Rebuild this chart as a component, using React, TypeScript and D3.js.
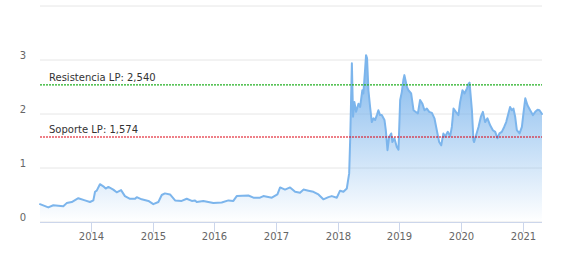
import React from "react";
import * as d3 from "d3";

const dates: string[] = [
  "2013-03-05","2013-04-23","2013-05-23","2013-07-21","2013-08-10","2013-09-09","2013-10-18","2013-11-26","2013-12-26",
  "2014-01-15","2014-01-25","2014-02-04","2014-02-23","2014-03-15","2014-03-29","2014-04-14","2014-05-13","2014-06-02",
  "2014-06-28","2014-07-21","2014-08-20","2014-09-19","2014-09-29","2014-10-28","2014-12-07",
  "2015-01-05","2015-02-04","2015-02-24","2015-03-15","2015-04-14","2015-05-14","2015-06-22","2015-07-22","2015-08-21",
  "2015-09-09","2015-09-19","2015-10-28","2015-12-27",
  "2016-02-14","2016-03-25","2016-04-23","2016-05-13","2016-07-21","2016-08-20","2016-09-28","2016-10-18","2016-12-07",
  "2017-01-09","2017-01-25","2017-02-23","2017-03-25","2017-04-24","2017-05-23","2017-06-12","2017-07-12","2017-08-10",
  "2017-09-09","2017-10-08","2017-11-07","2017-11-27","2017-12-27",
  "2018-01-15","2018-02-04","2018-02-24","2018-03-10","2018-03-17","2018-03-26","2018-04-02","2018-04-10","2018-04-20",
  "2018-05-04","2018-05-14","2018-05-27","2018-06-02","2018-06-12","2018-06-18","2018-06-24","2018-07-02","2018-07-12",
  "2018-07-22","2018-08-01","2018-08-11","2018-08-21","2018-08-30","2018-09-09","2018-09-19","2018-10-05","2018-10-13",
  "2018-10-23","2018-11-02","2018-11-14","2018-11-21","2018-12-03","2018-12-17","2018-12-27",
  "2019-01-06","2019-01-16","2019-01-25","2019-01-31","2019-02-15","2019-02-24","2019-03-12","2019-03-26","2019-04-21",
  "2019-05-04","2019-05-18","2019-05-30","2019-06-13","2019-06-27","2019-07-13","2019-07-28","2019-08-11","2019-08-25",
  "2019-09-06","2019-09-19","2019-09-29","2019-10-15","2019-10-29","2019-11-08","2019-11-18","2019-12-02","2019-12-17",
  "2019-12-27",
  "2020-01-10","2020-01-22","2020-02-05","2020-02-15","2020-02-21","2020-03-06","2020-03-15","2020-03-19","2020-03-31",
  "2020-04-14","2020-04-28","2020-05-10","2020-05-23","2020-06-06","2020-06-22","2020-07-08","2020-07-22","2020-08-04",
  "2020-08-16","2020-08-30","2020-09-13","2020-09-25","2020-10-08","2020-10-18","2020-10-29","2020-11-07","2020-11-17",
  "2020-11-27","2020-12-13","2020-12-27",
  "2021-01-05","2021-01-16","2021-01-29","2021-02-14","2021-03-02","2021-03-16","2021-03-30","2021-04-10","2021-04-25"
];

const values: number[] = [
  0.33,0.27,0.31,0.29,0.35,0.37,0.44,0.40,0.37,
  0.40,0.56,0.58,0.70,0.66,0.62,0.65,0.60,0.55,
  0.59,0.48,0.43,0.43,0.46,0.42,0.39,
  0.33,0.37,0.50,0.53,0.51,0.40,0.39,0.43,0.39,
  0.40,0.37,0.39,0.35,
  0.36,0.40,0.39,0.48,0.49,0.45,0.45,0.48,0.45,
  0.51,0.64,0.60,0.64,0.56,0.54,0.60,0.58,0.56,
  0.51,0.42,0.46,0.48,0.45,
  0.58,0.56,0.62,0.90,1.64,2.94,1.95,2.22,2.04,
  2.19,2.13,2.44,2.38,2.81,3.09,3.03,2.44,2.13,
  1.85,1.92,1.89,1.98,2.07,1.98,1.98,1.89,1.70,
  1.33,1.58,1.64,1.48,1.55,1.39,1.34,
  2.26,2.41,2.63,2.72,2.50,2.44,2.38,2.07,2.01,
  2.26,2.19,2.07,2.10,2.04,2.02,1.92,1.70,1.48,
  1.42,1.64,1.58,1.67,1.59,1.76,2.10,2.04,1.98,
  2.22,
  2.44,2.38,2.47,2.56,2.58,2.07,1.51,1.48,1.61,
  1.76,1.95,2.04,1.85,1.92,1.79,1.70,1.67,1.55,
  1.64,1.67,1.76,1.85,2.01,2.13,2.07,2.10,1.95,
  1.70,1.64,1.76,
  2.01,2.29,2.16,2.07,1.98,2.04,2.08,2.07,2.00
];

const yearTicks: number[] = [2014, 2015, 2016, 2017, 2018, 2019, 2020, 2021];
const yGridTicks: number[] = [0, 1, 2, 3, 4];
const yLabelTicks: number[] = [0, 1, 2, 3];
const plotLineValues: number[] = [2.54, 1.574];
const plotLineLabels: string[] = ["Resistencia LP: 2,540", "Soporte LP: 1,574"];
const plotLineColors: string[] = ["#22b022", "#dd0011"];

export default function App() {
  const W = 561, H = 260;
  const left = 40, right = 542, top = 6, bottom = 222;
  const parse = d3.timeParse("%Y-%m-%d");
  const data = dates.map((d, i) => ({ date: parse(d) as Date, value: values[i] }));
  const x = d3.scaleTime()
    .domain([data[0].date, data[data.length - 1].date])
    .range([left, right]);
  const y = d3.scaleLinear().domain([0, 4]).range([bottom, top]);
  const area = d3.area<{ date: Date; value: number }>()
    .x(d => x(d.date)).y0(y(0)).y1(d => y(d.value));
  const line = d3.line<{ date: Date; value: number }>()
    .x(d => x(d.date)).y(d => y(d.value));
  const font = "'Lucida Grande', 'Lucida Sans Unicode', 'DejaVu Sans', Arial, sans-serif";

  return (
    <svg width={W} height={H} style={{ position: "absolute", left: 0, top: 0, background: "#fff" }} fontFamily={font}>
      <defs>
        <linearGradient id="areaGrad" x1="0" y1="0" x2="0" y2="1">
          <stop offset="0" stopColor="#7cb5ec" stopOpacity={1} />
          <stop offset="1" stopColor="#7cb5ec" stopOpacity={0} />
        </linearGradient>
      </defs>
      {yGridTicks.map(t => (
        <line key={t} x1={left} x2={right} y1={y(t)} y2={y(t)} stroke="#e6e6e6" strokeWidth={1} />
      ))}
      {yLabelTicks.map(t => (
        <text key={t} x={26} y={y(t) - 1.5} fontSize={10} fill="#666" textAnchor="end">{t}</text>
      ))}
      <path d={area(data) || ""} fill="url(#areaGrad)" stroke="none" />
      <path d={line(data) || ""} fill="none" stroke="#7cb5ec" strokeWidth={2} strokeLinejoin="round" strokeLinecap="round" />
      {plotLineValues.map((v, i) => (
        <g key={i}>
          <line x1={left} x2={right} y1={y(v)} y2={y(v)}
            style={{ stroke: plotLineColors[i] }} strokeWidth={1.2} strokeDasharray="2,1" />
          <text x={49} y={y(v) - 4} fontSize={10} fill="#333">{plotLineLabels[i]}</text>
        </g>
      ))}
      <line x1={left} x2={right} y1={bottom + 0.5} y2={bottom + 0.5} stroke="#ccd6eb" strokeWidth={1} />
      {yearTicks.map(yr => {
        const px = Math.round(x(new Date(yr, 0, 1))) + 0.5;
        return (
          <g key={yr}>
            <line x1={px} x2={px} y1={bottom} y2={bottom + 10} stroke="#ccd6eb" strokeWidth={1} />
            <text x={px} y={240} fontSize={10} fill="#666" textAnchor="middle">{yr}</text>
          </g>
        );
      })}
    </svg>
  );
}
